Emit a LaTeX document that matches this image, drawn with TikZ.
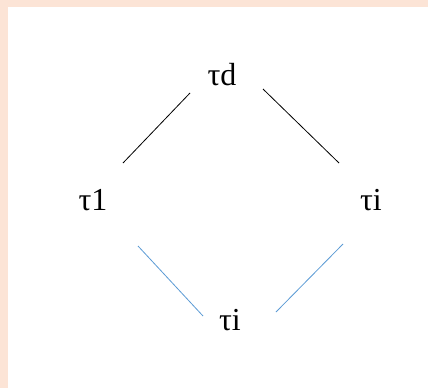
\documentclass[tikz,border=0pt]{standalone}
\usepackage{fontspec}
\setmainfont{Liberation Serif}
\definecolor{sheetpeach}{RGB}{252,228,214}
\definecolor{linkblue}{RGB}{91,155,213}
\tikzset{tau/.style={anchor=base,inner sep=0pt,font=\fontsize{32}{38}\selectfont}}
\begin{document}
\begin{tikzpicture}[x=1pt,y=-1pt]
\useasboundingbox (0,0) rectangle (428,388);
\path[fill=sheetpeach,draw=none] (0,0) rectangle (428,388);
\path[fill=white,draw=none] (8,7) rectangle (428,388);
\node[tau] (tau-d) at (222,85) {τd};
\node[tau] (tau-1) at (93,210) {τ1};
\node[tau] (tau-i-right) at (371,210) {τi};
\node[tau] (tau-i-low) at (230,330) {τi};
\draw[black,line width=0.8pt] ([shift={(30,-47)}]tau-1.base) -- ([shift={(-32,8)}]tau-d.base);
\draw[black,line width=0.8pt] ([shift={(41,4)}]tau-d.base) -- ([shift={(-32,-47)}]tau-i-right.base);
\draw[linkblue,line width=0.8pt] ([shift={(45,36)}]tau-1.base) -- ([shift={(-27,-14)}]tau-i-low.base);
\draw[linkblue,line width=0.8pt] ([shift={(46,-18)}]tau-i-low.base) -- ([shift={(-28,34)}]tau-i-right.base);
\end{tikzpicture}
\end{document}
